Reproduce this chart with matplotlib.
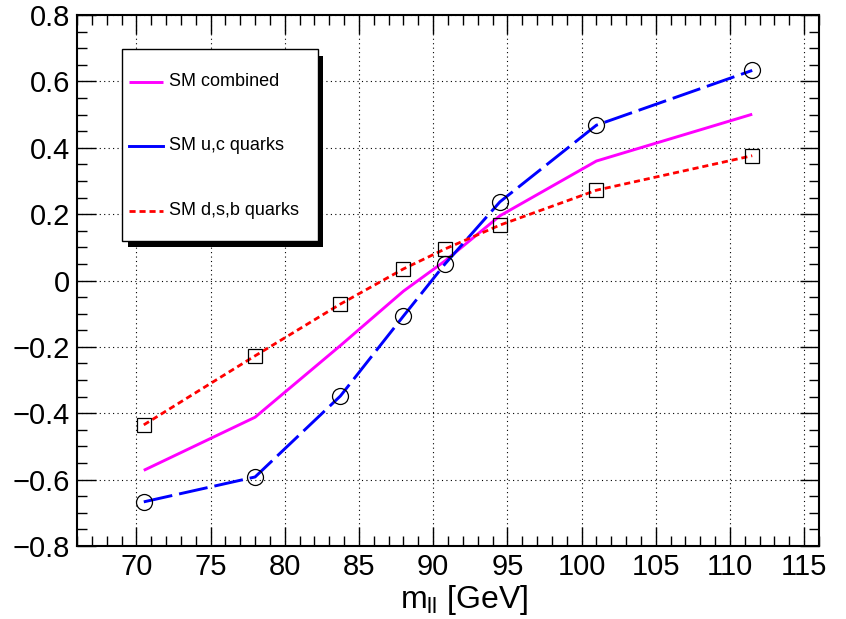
import matplotlib
matplotlib.use("Agg")
import matplotlib.pyplot as plt
from matplotlib.ticker import MultipleLocator, FuncFormatter
from matplotlib.patches import Rectangle
from matplotlib.lines import Line2D

plt.rcParams['font.family'] = ['Liberation Sans', 'DejaVu Sans']
plt.rcParams['mathtext.fontset'] = 'custom'
plt.rcParams['mathtext.rm'] = 'Liberation Sans'
plt.rcParams['mathtext.it'] = 'Liberation Sans'

# dilepton mass points and asymmetry curves
mass = [70.5, 78.0, 83.75, 88.0, 90.8, 94.5, 101.0, 111.5]
sm_combined = [-0.572, -0.412, -0.196, -0.032, 0.059, 0.195, 0.360, 0.501]
sm_uc = [-0.667, -0.592, -0.348, -0.107, 0.050, 0.237, 0.468, 0.633]
sm_dsb = [-0.435, -0.227, -0.071, 0.035, 0.095, 0.167, 0.272, 0.376]

W, H = 846, 619
fig = plt.figure(figsize=(W / 100, H / 100), dpi=100)
ax = fig.add_axes([77 / W, 1 - 546 / H, 742 / W, 531 / H])

MAGENTA = dict(color='#ff00ff', lw=2.1, solid_capstyle='butt')
BLUE = dict(color='#0000ff', lw=2.1, dashes=(10, 2.4))
RED = dict(color='#ff0000', lw=2.0, dashes=(2.2, 1.4))

ax.plot(mass, sm_combined, **MAGENTA)
ax.plot(mass, sm_uc, **BLUE)
ax.plot(mass, sm_dsb, **RED)

ax.plot(mass, sm_uc, ls='none', marker='o', ms=11.5, mfc='none', mec='black', mew=0.9)
ax.plot(mass, sm_dsb, ls='none', marker='s', ms=10.5, mfc='none', mec='black', mew=0.9)

ax.set_xlim(66, 116)
ax.set_ylim(-0.8, 0.8)

ax.xaxis.set_major_locator(MultipleLocator(5))
ax.xaxis.set_minor_locator(MultipleLocator(1))
ax.yaxis.set_major_locator(MultipleLocator(0.2))
ax.yaxis.set_minor_locator(MultipleLocator(0.05))


def fmt(v, pos):
    s = '%g' % round(v, 2)
    if s == '-0':
        s = '0'
    return s.replace('-', '\u2212')


ax.yaxis.set_major_formatter(FuncFormatter(fmt))
ax.xaxis.set_major_formatter(FuncFormatter(fmt))

ax.tick_params(which='both', direction='in', top=True, right=True,
               labelsize=21, width=1.0, color='black')
ax.tick_params(which='major', length=14)
ax.tick_params(which='minor', length=7.5)
ax.tick_params(axis='x', pad=5)
ax.tick_params(axis='y', pad=5)

ax.grid(True, which='major', color='black', ls=(0, (1, 3)), lw=0.8)
for sp in ax.spines.values():
    sp.set_linewidth(1.5)

fig.text(464 / W, 1 - 608 / H, r'm$_{\mathrm{ll}}$ [GeV]', fontsize=23,
         ha='center', va='baseline')


# legend box with drop shadow, in pixel coordinates
def px(x, y):
    return x / W, 1 - y / H


shadow = Rectangle(px(128, 247), (323 - 128) / W, (247 - 56) / H,
                   transform=fig.transFigure, facecolor='black', edgecolor='none', zorder=10)
box = Rectangle(px(122, 241), (318 - 122) / W, (241 - 49) / H,
                transform=fig.transFigure, facecolor='white', edgecolor='black',
                lw=1.0, zorder=11)
fig.add_artist(shadow)
fig.add_artist(box)

entries = [
    ('SM combined', MAGENTA, 82),
    ('SM u,c quarks', dict(color='#0000ff', lw=2.1), 146),
    ('SM d,s,b quarks', RED, 211),
]
for label, style, yy in entries:
    x0, y0 = px(129, yy)
    x1, _ = px(163, yy)
    fig.add_artist(Line2D([x0, x1], [y0, y0], transform=fig.transFigure, zorder=12, **style))
    fig.text(169 / W, y0, label, fontsize=13, va='center', ha='left', zorder=12)

fig.savefig('out.png', dpi=100)
